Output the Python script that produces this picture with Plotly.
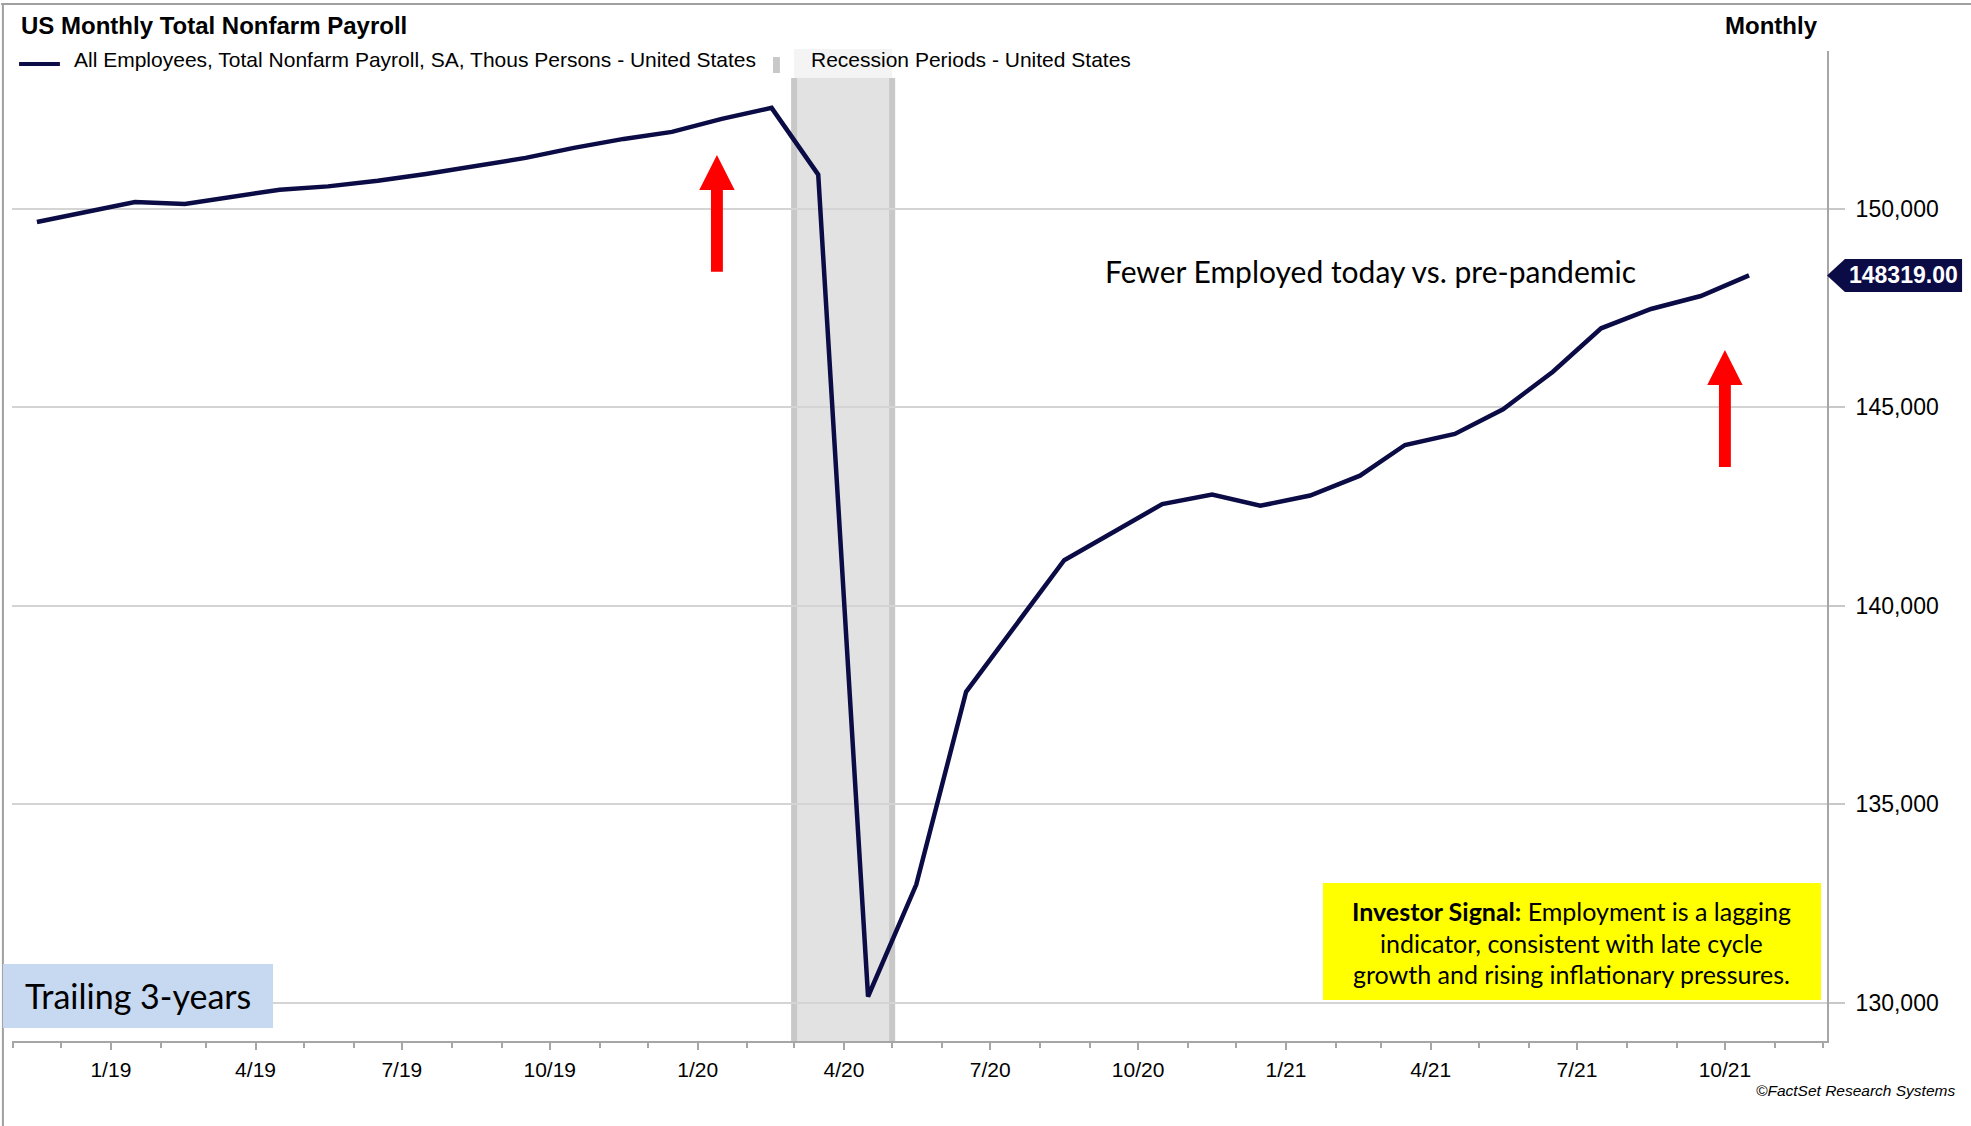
import plotly.graph_objects as go
import pandas as pd

# ---------------- data ----------------
months = ["2018-11", "2018-12", "2019-01", "2019-02", "2019-03", "2019-04", "2019-05", "2019-06",
          "2019-07", "2019-08", "2019-09", "2019-10", "2019-11", "2019-12", "2020-01", "2020-02",
          "2020-03", "2020-04", "2020-05", "2020-06", "2020-07", "2020-08", "2020-09", "2020-10",
          "2020-11", "2020-12", "2021-01", "2021-02", "2021-03", "2021-04", "2021-05", "2021-06",
          "2021-07", "2021-08", "2021-09", "2021-10"]
payroll = [149665, 149917, 150169, 150119, 150277, 150479, 150562, 150706,
           150875, 151084, 151279, 151531, 151758, 151934, 152262, 152540,
           150858, 130156, 132975, 137831, 139478, 141146, 141864, 142559,
           142801, 142516, 142776, 143275, 144048, 144325, 144947, 145894,
           146987, 147474, 147801, 148319]
recession = ["2020-03-01", "2020-05-01"]
y_ticks = [130000, 135000, 140000, 145000, 150000]
x_range = ["2018-10-31 12:00", "2021-12-03 12:00"]
y_range = [129035, 153972]
# arrows: (date, bottom value, head-base value, tip value)
arrows = [("2020-01-13", 148413, 150471, 151353),
          ("2021-10-01", 143494, 145559, 146441)]

# plot points at mid-month
dates = [pd.Timestamp(m + "-01") + pd.Timedelta(days=15) for m in months]

NAVY = "#0b0b45"
ARIAL = "Liberation Sans, Arial, sans-serif"
CAL = "Lato, Carlito, Calibri, sans-serif"

fig = go.Figure()

fig.add_trace(go.Scatter(x=dates, y=payroll, mode="lines",
                         line=dict(color=NAVY, width=4.5), showlegend=False,
                         hoverinfo="skip"))

# red arrows as filled polygons
for d, y_bot, y_head, y_tip in arrows:
    c = pd.Timestamp(d)
    sw = pd.Timedelta(days=3.7)
    hw = pd.Timedelta(days=11)
    xs = [c - sw, c - sw, c - hw, c, c + hw, c + sw, c + sw, c - sw]
    ys = [y_bot, y_head, y_head, y_tip, y_head, y_head, y_bot, y_bot]
    fig.add_trace(go.Scatter(x=xs, y=ys, mode="lines", fill="toself",
                             fillcolor="#ff0000", line=dict(width=0, color="#ff0000"),
                             showlegend=False, hoverinfo="skip"))

shapes = []
# recession shading
shapes.append(dict(type="rect", xref="x", yref="paper", x0=recession[0], x1=recession[1],
                   y0=0, y1=0.9727, fillcolor="#e2e2e2", line=dict(width=0), layer="below"))
for xv in recession:
    shapes.append(dict(type="line", xref="x", yref="paper", x0=xv, x1=xv, y0=0, y1=0.9727,
                       line=dict(color="#c8c8c8", width=6), layer="below"))
# light legend box over recession column
shapes.append(dict(type="rect", xref="x", yref="paper", x0=recession[0], x1=recession[1],
                   y0=0.9727, y1=1.002, fillcolor="#f4f4f4", line=dict(width=0), layer="below"))

# frame lines
shapes.append(dict(type="line", xref="paper", yref="paper", x0=-0.006, x1=1.09, y0=1.0475, y1=1.0475,
                   line=dict(color="#a0a0a0", width=2)))
shapes.append(dict(type="line", xref="paper", yref="paper", x0=-0.005, x1=-0.005, y0=1.0475, y1=-0.09,
                   line=dict(color="#a0a0a0", width=2)))

# legend symbols
shapes.append(dict(type="line", xref="paper", yref="paper", x0=0.0039, x1=0.0264, y0=0.9869, y1=0.9869,
                   line=dict(color=NAVY, width=4)))
shapes.append(dict(type="rect", xref="paper", yref="paper", x0=0.4193, x1=0.4231, y0=0.9778, y1=0.9939,
                   fillcolor="#c8c8c8", line=dict(width=0)))

# boxes
shapes.append(dict(type="rect", xref="paper", yref="paper", x0=0.7223, x1=0.9967, y0=0.0414, y1=0.1596,
                   fillcolor="#ffff00", line=dict(width=0)))
shapes.append(dict(type="rect", xref="paper", yref="paper", x0=-0.005, x1=0.1438, y0=0.0131, y1=0.0778,
                   fillcolor="#c6d9f1", line=dict(width=0)))

# last value tag
last = payroll[-1]
yp = (last - y_range[0]) / (y_range[1] - y_range[0])
hh = 16.5 / 990
shapes.append(dict(type="path", xref="paper", yref="paper",
                   path=f"M 1.0,{yp} L 1.0099,{yp + hh} L 1.0744,{yp + hh} L 1.0744,{yp - hh} L 1.0099,{yp - hh} Z",
                   fillcolor=NAVY, line=dict(width=0)))

ann = []
ann.append(dict(text="<b>US Monthly Total Nonfarm Payroll</b>", x=0.0039, y=1.0253, xref="paper", yref="paper",
                xanchor="left", yanchor="middle", showarrow=False, font=dict(family=ARIAL, size=24, color="#000")))
ann.append(dict(text="<b>Monthly</b>", x=0.9961, y=1.0253, xref="paper", yref="paper",
                xanchor="right", yanchor="middle", showarrow=False, font=dict(family=ARIAL, size=24, color="#000")))
ann.append(dict(text="All Employees, Total Nonfarm Payroll, SA, Thous Persons - United States",
                x=0.0331, y=0.9919, xref="paper", yref="paper", xanchor="left", yanchor="middle",
                showarrow=False, font=dict(family=ARIAL, size=21, color="#000")))
ann.append(dict(text="Recession Periods - United States",
                x=0.4391, y=0.9919, xref="paper", yref="paper", xanchor="left", yanchor="middle",
                showarrow=False, font=dict(family=ARIAL, size=21, color="#000")))
ann.append(dict(text="Fewer Employed today vs. pre-pandemic", x=0.6011, y=0.7778, xref="paper", yref="paper",
                xanchor="left", yanchor="middle", showarrow=False, font=dict(family=CAL, size=30, color="#000")))
ann.append(dict(text="Trailing 3-years", x=0.0061, y=0.0455, xref="paper", yref="paper",
                xanchor="left", yanchor="middle", showarrow=False, font=dict(family=CAL, size=34, color="#000")))
box_lines = ["<b>Investor Signal:</b> Employment is a lagging",
             "indicator, consistent with late cycle",
             "growth and rising inflationary pressures."]
for i, t in enumerate(box_lines):
    ann.append(dict(text=t, x=0.8595, y=(1041 - (911 + 31.5 * i)) / 990, xref="paper", yref="paper",
                    xanchor="center", yanchor="middle", showarrow=False,
                    font=dict(family=CAL, size=25, color="#000")))
ann.append(dict(text="<i>©FactSet Research Systems</i>", x=1.0716, y=-0.0505, xref="paper", yref="paper",
                xanchor="right", yanchor="middle", showarrow=False, font=dict(family=ARIAL, size=15.5, color="#000")))
ann.append(dict(text=f"<b>{last:.2f}</b>", x=1.0422, y=yp, xref="paper", yref="paper",
                xanchor="center", yanchor="middle", showarrow=False, font=dict(family=ARIAL, size=23, color="#fff")))

fig.update_layout(
    width=1971, height=1126,
    margin=dict(l=12, r=144, t=51, b=85),
    paper_bgcolor="white", plot_bgcolor="white",
    shapes=shapes, annotations=ann, showlegend=False,
    xaxis=dict(type="date", range=x_range, dtick="M3", tick0="2019-01-01", tickformat="%-m/%y",
               ticks="outside", ticklen=7, tickwidth=1.5, tickcolor="#a6a6a6",
               showline=True, linecolor="#a6a6a6", linewidth=2, showgrid=False, zeroline=False,
               tickfont=dict(family=ARIAL, size=21, color="#000"), ticklabelstandoff=2,
               minor=dict(dtick="M1", ticks="outside", ticklen=5, tickwidth=1.5, tickcolor="#a6a6a6", showgrid=False)),
    yaxis=dict(side="right", range=y_range, tickvals=y_ticks, tickformat=",",
               ticks="outside", ticklen=16, tickwidth=2, tickcolor="#c8c8c8",
               showline=True, linecolor="#a6a6a6", linewidth=2,
               showgrid=True, gridcolor="#d4d4d4", gridwidth=2, zeroline=False,
               tickfont=dict(family=ARIAL, size=23, color="#000"), ticklabelstandoff=6),
)

fig.write_html("out.html", config={"displayModeBar": False},
               post_script="document.body.style.margin='0px';document.body.style.overflow='hidden';")
